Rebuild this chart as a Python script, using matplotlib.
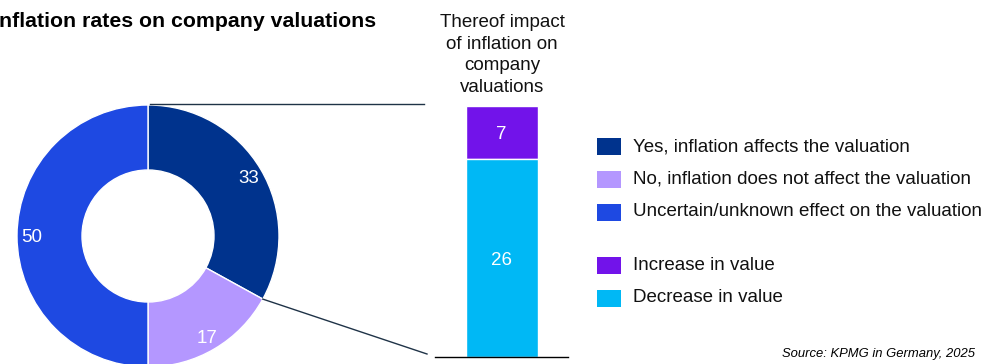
"""Donut of inflation impact on valuations, with a stacked bar breaking down the 'yes' share
"""
import numpy as np
import matplotlib.pyplot as plt
from matplotlib.patches import Rectangle

plt.rcParams['font.family'] = ['Liberation Sans', 'DejaVu Sans']

# Data
donut_labels = ["Yes, inflation affects the valuation",
                "No, inflation does not affect the valuation",
                "Uncertain/unknown effect on the valuation"]
donut_values = [33, 17, 50]
donut_colors = ['#00338D', '#B497FF', '#1E49E2']

bar_labels = ["Increase in value", "Decrease in value"]
bar_values = [7, 26]
bar_colors = ['#7213EA', '#00B8F5']

W, H = 981, 364
fig = plt.figure(figsize=(W / 100, H / 100), dpi=100)

# main axes in pixel units, y pointing up
ax = fig.add_axes([0, 0, 1, 1])


def Y(py):
    return H - py


cx, cy, r_out, r_in = 148, Y(236), 131, 66
wedges, texts = ax.pie(
    donut_values, colors=donut_colors, startangle=90, counterclock=False,
    center=(cx, cy), radius=r_out,
    labels=[str(v) for v in donut_values], labeldistance=0.89,
    textprops=dict(color='white', fontsize=13.5, ha='center', va='center_baseline'),
    wedgeprops=dict(width=r_out - r_in, edgecolor='white', linewidth=1))
ax.set_xlim(0, W)
ax.set_ylim(0, H)
ax.set_aspect('auto')
ax.axis('off')

# stacked bar in its own axes
bx0, bx1, by_top, by_bot = 435, 568, 106, 357
bax = fig.add_axes([bx0 / W, Y(by_bot) / H, (bx1 - bx0) / W, (by_bot - by_top) / H])
bottoms = [sum(bar_values[1:]), 0]
for val, bot, col in zip(bar_values, bottoms, bar_colors):
    bax.bar(0, val, bottom=bot, width=72 / (bx1 - bx0), color=col,
            edgecolor='white', linewidth=1)
    bax.text(0, bot + val / 2, str(val), color='white', fontsize=13.5,
             ha='center', va='center_baseline')
bax.set_xlim(-0.5, 0.5)
bax.set_ylim(0, sum(bar_values))
bax.set_xticks([])
bax.set_yticks([])
for side in ['top', 'left', 'right']:
    bax.spines[side].set_visible(False)
bax.spines['bottom'].set_color('black')
bax.spines['bottom'].set_linewidth(1)
bax.patch.set_alpha(0)

# connector lines from the 'yes' slice to the bar
line_col = '#1f3347'
t1 = np.deg2rad(wedges[0].theta1)
ax.plot([cx + 2, 424], [Y(104), Y(104)], color=line_col, lw=1)
ax.plot([cx + r_out * np.cos(t1), 427], [cy + r_out * np.sin(t1), Y(354)],
        color=line_col, lw=1)

# headings
ax.text(-1, Y(27), "nflation rates on company valuations", fontsize=15.3,
        fontweight='bold', ha='left', va='baseline', color='black')
ax.text(502, Y(55), "Thereof impact\nof inflation on\ncompany\nvaluations",
        fontsize=13.5, ha='center', va='center', linespacing=1.36, color='#111111')

# legend
rows = [146.5, 179.5, 212, 265, 298]
for py, label, col in zip(rows, donut_labels + bar_labels, donut_colors + bar_colors):
    ax.add_patch(Rectangle((597, Y(py) - 8.5), 24, 17, color=col, lw=0))
    ax.text(633, Y(py), label, fontsize=13.5, ha='left', va='center',
            color='#111111')

ax.text(975, Y(357), "Source: KPMG in Germany, 2025", fontsize=9.4,
        style='italic', ha='right', va='baseline', color='black')

fig.savefig('out.png', dpi=100)
